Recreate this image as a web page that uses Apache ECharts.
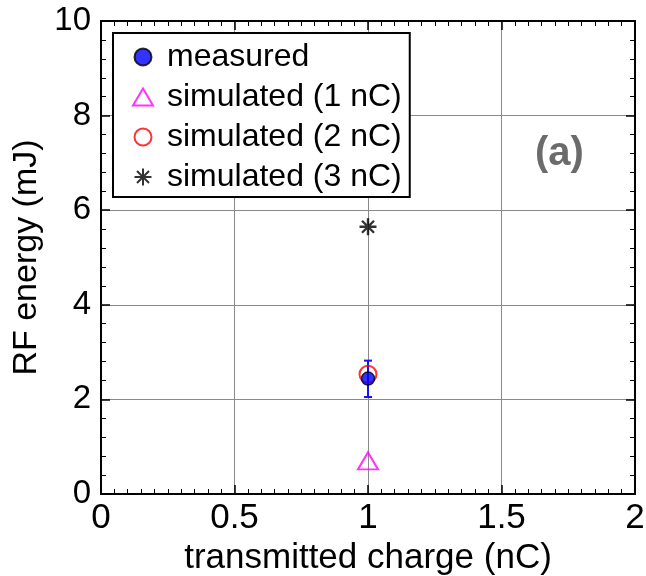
<!DOCTYPE html>
<html><head><meta charset="utf-8">
<script src="https://cdn.jsdelivr.net/npm/echarts@6/dist/echarts.min.js"></script>
<style>html,body{margin:0;padding:0;background:#fff}#c{width:646px;height:576px}</style>
</head><body><div id="c"></div>
<script>
const xTicks = [0, 0.5, 1, 1.5, 2];
const yTicks = [0, 2, 4, 6, 8, 10];
const seriesNames = ['measured', 'simulated (1 nC)', 'simulated (2 nC)', 'simulated (3 nC)'];
const measured = [[1, 2.44]];
const measuredErr = [[1, 2.05, 2.82]];
const sim1 = [[1, 0.70]];
const sim2 = [[1, 2.53]];
const sim3 = [[1, 5.65]];
const panelLabel = '(a)';
const xTitle = 'transmitted charge (nC)';
const yTitle = 'RF energy (mJ)';

const FONT = '"Liberation Sans", Arial, sans-serif';
const chart = echarts.init(document.getElementById('c'), null, {renderer: 'canvas'});
const star = 'path://M0,-10L0,10M-10,0L10,0M-7.07,-7.07L7.07,7.07M-7.07,7.07L7.07,-7.07';

const baseX = {
  type: 'value', min: xTicks[0], max: xTicks[xTicks.length - 1], interval: 0.5,
  axisLine: {onZero: false, lineStyle: {color: '#000', width: 2}},
  axisTick: {inside: true, length: 9, lineStyle: {color: '#000', width: 1.5}},
  minorTick: {show: true, splitNumber: 10, length: 5, lineStyle: {color: '#000', width: 1}},
};
const baseY = {
  type: 'value', min: yTicks[0], max: yTicks[yTicks.length - 1], interval: 2,
  axisLine: {onZero: false, lineStyle: {color: '#000', width: 2}},
  axisTick: {inside: true, length: 9, lineStyle: {color: '#000', width: 1.5}},
  minorTick: {show: true, splitNumber: 5, length: 5, lineStyle: {color: '#000', width: 1}},
};

chart.setOption({
  animation: false,
  backgroundColor: '#fff',
  grid: {left: 101, right: 11, top: 21, bottom: 82, show: false, containLabel: false, outerBoundsMode: 'none'},
  xAxis: [
    Object.assign({}, baseX, {
      position: 'bottom',
      name: xTitle, nameLocation: 'middle', nameGap: 39,
      nameTextStyle: {fontFamily: FONT, fontSize: 35, color: '#000'},
      axisLabel: {fontFamily: FONT, fontSize: 35, color: '#000', margin: 7,
        formatter: v => String(v)},
      splitLine: {show: true, lineStyle: {color: '#8a8a8a', width: 1}}
    }),
    Object.assign({}, baseX, {position: 'top', axisLabel: {show: false}, splitLine: {show: false}})
  ],
  yAxis: [
    Object.assign({}, baseY, {
      position: 'left',
      name: yTitle, nameLocation: 'middle', nameGap: 56, nameRotate: 90,
      nameTextStyle: {fontFamily: FONT, fontSize: 34, color: '#000'},
      axisLabel: {fontFamily: FONT, fontSize: 33, color: '#000', margin: 10},
      splitLine: {show: true, lineStyle: {color: '#8a8a8a', width: 1}}
    }),
    Object.assign({}, baseY, {position: 'right', axisLabel: {show: false}, splitLine: {show: false}})
  ],
  legend: {
    orient: 'vertical', left: 113, top: 33,
    data: seriesNames,
    backgroundColor: '#fff', borderColor: '#000', borderWidth: 2, borderRadius: 0,
    padding: [8, 8, 4, 19], itemGap: 8, itemWidth: 20, itemHeight: 17,
    textStyle: {fontFamily: FONT, fontSize: 32, color: '#000', lineHeight: 32, padding: [0, 0, 0, 9]},
    z: 10
  },
  graphic: [{
    type: 'text', left: 535, top: 134, z: 10,
    style: {text: panelLabel, font: 'bold 40px ' + FONT, fill: '#6b6b6b'}
  }],
  series: [
    {
      name: 'errbar', type: 'custom', data: measuredErr, z: 3,
      renderItem: function (params, api) {
        const x = api.value(0);
        const lo = api.coord([x, api.value(1)]);
        const hi = api.coord([x, api.value(2)]);
        const w = 4;
        const st = {stroke: '#1010ff', lineWidth: 2};
        return {type: 'group', children: [
          {type: 'line', shape: {x1: lo[0], y1: lo[1], x2: hi[0], y2: hi[1]}, style: st},
          {type: 'line', shape: {x1: lo[0] - w, y1: lo[1], x2: lo[0] + w, y2: lo[1]}, style: st},
          {type: 'line', shape: {x1: hi[0] - w, y1: hi[1], x2: hi[0] + w, y2: hi[1]}, style: st}
        ]};
      }
    },
    {
      name: seriesNames[2], type: 'scatter', data: sim2, symbol: 'circle', symbolSize: 17, z: 4,
      itemStyle: {color: 'rgba(255,255,255,0)', borderColor: '#ff0000', borderWidth: 2}
    },
    {
      name: seriesNames[0], type: 'scatter', data: measured, symbol: 'circle', symbolSize: 13, z: 5,
      itemStyle: {color: '#0000ff', borderColor: '#000', borderWidth: 1.5}
    },
    {
      name: seriesNames[1], type: 'scatter', data: sim1, symbol: 'triangle', symbolSize: [20, 17], z: 4,
      itemStyle: {color: 'rgba(255,255,255,0)', borderColor: '#ff00ff', borderWidth: 2}
    },
    {
      name: seriesNames[3], type: 'scatter', data: sim3, symbol: star, symbolSize: 17, z: 4,
      itemStyle: {color: 'rgba(0,0,0,0)', borderColor: '#000', borderWidth: 2.4}
    }
  ]
});
</script></body></html>
